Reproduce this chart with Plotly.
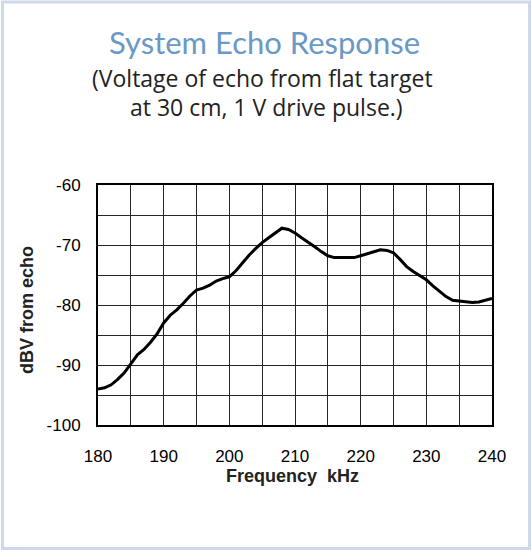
import plotly.graph_objects as go

freq_khz = list(range(180, 241))
echo_dbv = [
    -94.0, -93.8, -93.3, -92.4, -91.3, -89.8, -88.3, -87.4, -86.2, -84.8,
    -83.0, -81.7, -80.8, -79.7, -78.5, -77.5, -77.2, -76.7, -76.0, -75.6,
    -75.3, -74.3, -73.0, -71.7, -70.6, -69.6, -68.8, -68.0, -67.2, -67.4,
    -68.0, -68.8, -69.5, -70.3, -71.1, -71.8, -72.1, -72.1, -72.1, -72.1,
    -71.8, -71.5, -71.1, -70.8, -70.9, -71.3, -72.4, -73.6, -74.4, -75.1,
    -75.8, -76.8, -77.7, -78.6, -79.2, -79.3, -79.5, -79.6, -79.5, -79.2,
    -78.9,
]
x_ticks = [180, 190, 200, 210, 220, 230, 240]
x_tick_labels = ["180", "190", "200", "210", "220", "230", "240"]
y_ticks = [-100, -90, -80, -70, -60]
y_tick_labels = ["-100", "-90", "-80", "-70", "-60"]

title_text = "System Echo Response"
subtitle_1 = "(Voltage of echo from flat target"
subtitle_2 = "at 30 cm, 1 V drive pulse.)"
x_title = "Frequency  kHz"
y_title = "dBV from echo"

W, H = 532, 550
L, T = 98, 185
R = W - 492
B = H - 425
pw, ph = W - L - R, H - T - B


def px_x(px):
    return (px - L) / pw


def px_y(py):
    return (H - B - py) / ph


fig = go.Figure()
fig.add_trace(go.Scatter(
    x=freq_khz, y=echo_dbv, mode="lines",
    line=dict(color="black", width=3), showlegend=False, hoverinfo="skip",
))

grid_col = "#262626"
tick_font = dict(family="Liberation Sans, Arial", size=17, color="black")

fig.update_xaxes(
    range=[180, 240], tickvals=x_ticks, ticktext=x_tick_labels,
    showgrid=True, gridcolor=grid_col, gridwidth=1.3,
    minor=dict(dtick=5, tick0=180, showgrid=True, gridcolor=grid_col, gridwidth=1.3),
    showline=True, mirror=True, linecolor="black", linewidth=2, zeroline=False,
    ticks="", tickfont=tick_font, ticklabelstandoff=15,
)
fig.update_yaxes(
    range=[-100, -60], tickvals=y_ticks, ticktext=y_tick_labels,
    showgrid=True, gridcolor=grid_col, gridwidth=1.3,
    minor=dict(dtick=5, tick0=-100, showgrid=True, gridcolor=grid_col, gridwidth=1.3),
    showline=True, mirror=True, linecolor="black", linewidth=2, zeroline=False,
    ticks="", tickfont=tick_font, ticklabelstandoff=12,
)

fig.add_annotation(text=title_text, xref="paper", yref="paper",
                   x=px_x(264), y=px_y(41.5), xanchor="center", yanchor="middle",
                   showarrow=False, font=dict(family="Lato", size=31, color="#6a99c6"))
fig.add_annotation(text=subtitle_1, xref="paper", yref="paper",
                   x=px_x(262), y=px_y(78.5), xanchor="center", yanchor="middle",
                   showarrow=False, font=dict(family="Open Sans", size=23, color="#222222"))
fig.add_annotation(text=subtitle_2, xref="paper", yref="paper",
                   x=px_x(266), y=px_y(107), xanchor="center", yanchor="middle",
                   showarrow=False, font=dict(family="Open Sans", size=23, color="#222222"))
fig.add_annotation(text="<b>" + x_title + "</b>", xref="paper", yref="paper",
                   x=px_x(292), y=px_y(476), xanchor="center", yanchor="middle",
                   showarrow=False, font=dict(family="Liberation Sans, Arial", size=18, color="#222222"))
fig.add_annotation(text="<b>" + y_title + "</b>", xref="paper", yref="paper",
                   x=px_x(27), y=px_y(310), xanchor="center", yanchor="middle", textangle=-90,
                   showarrow=False, font=dict(family="Liberation Sans, Arial", size=18, color="#222222"))

fig.add_shape(type="rect", xref="paper", yref="paper",
              x0=px_x(2.5), x1=px_x(529.5), y0=px_y(548.5), y1=px_y(2),
              line=dict(color="#cdd9ea", width=3), fillcolor="rgba(0,0,0,0)", layer="below")

fig.update_layout(
    width=W, height=H, margin=dict(l=L, r=R, t=T, b=B),
    paper_bgcolor="white", plot_bgcolor="white",
)

fig.write_html(
    "out.html",
    config={"displayModeBar": False},
    post_script="document.body.style.margin='0px';document.body.style.overflow='hidden';",
)
